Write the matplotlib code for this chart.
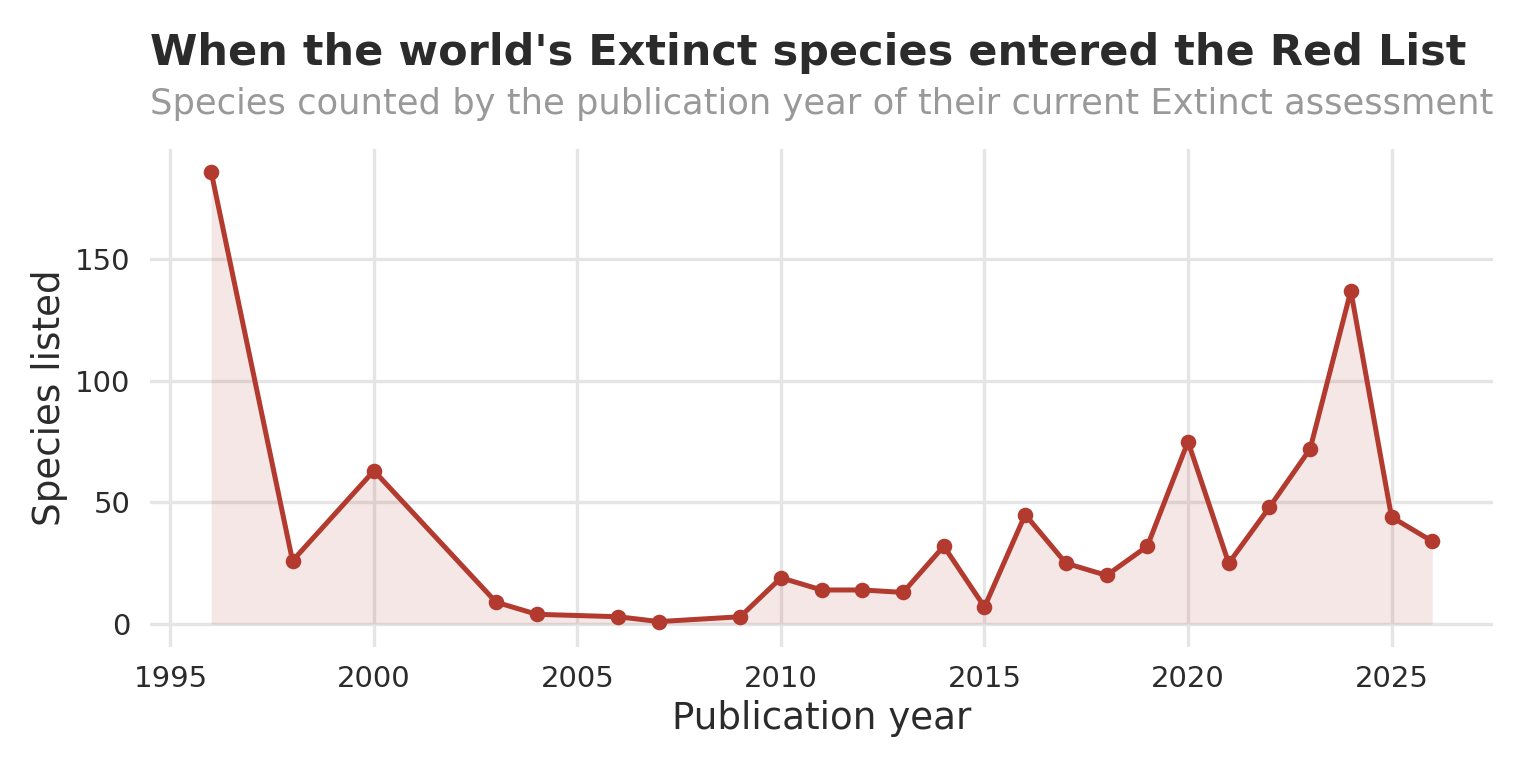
import matplotlib
matplotlib.use('Agg')
import matplotlib.pyplot as plt
import numpy as np

# publication year of current Extinct assessment and species counted
years = [1996, 1998, 2000, 2003, 2004, 2006, 2007, 2009, 2010, 2011, 2012, 2013,
         2014, 2015, 2016, 2017, 2018, 2019, 2020, 2021, 2022, 2023, 2024, 2025, 2026]
counts = [186, 26, 63, 9, 4, 3, 1, 3, 19, 14, 14, 13,
          32, 7, 45, 25, 20, 32, 75, 25, 48, 72, 137, 44, 34]

xTicks = [1995, 2000, 2005, 2010, 2015, 2020, 2025]
yTicks = [0, 50, 100, 150]

lineColor = '#b23a2f'
textColor = '#2b2b2b'

plt.rcParams['font.family'] = ['DejaVu Sans']

fig = plt.figure(figsize=(7.68, 3.84), dpi=200)
ax = fig.add_axes([0.0977, 0.158, 0.8745, 0.648])

# area under the line, then the line with points
ax.fill_between(years, counts, 0, color=lineColor, alpha=0.12, linewidth=0)
ax.plot(years, counts, color=lineColor, linewidth=1.8, marker='o', markersize=4.6, zorder=3)

ax.set_xlim(1994.5, 2027.5)
ax.set_ylim(-9.3, 195.3)
ax.set_xticks(xTicks)
ax.set_yticks(yTicks)

ax.grid(True, color='#e5e5e5', linewidth=1.2)
ax.set_axisbelow(True)
for spine in ax.spines.values():
    spine.set_visible(False)
ax.tick_params(length=0, labelsize=10.5, labelcolor=textColor)
ax.tick_params(axis='x', pad=6.5)
ax.tick_params(axis='y', pad=7)

ax.set_xlabel('Publication year', fontsize=13.4, color=textColor, labelpad=2.8)
ax.set_ylabel('Species listed', fontsize=13.4, color=textColor, labelpad=2.5)

# title and subtitle, left aligned with the panel
fig.text(0.0977, 0.915, "When the world's Extinct species entered the Red List",
         fontsize=15.5, fontweight='bold', color=textColor, ha='left', va='baseline')
fig.text(0.0977, 0.852, 'Species counted by the publication year of their current Extinct assessment',
         fontsize=12.7, color='#999999', ha='left', va='baseline')

fig.savefig('out.png', dpi=200, facecolor='white')
